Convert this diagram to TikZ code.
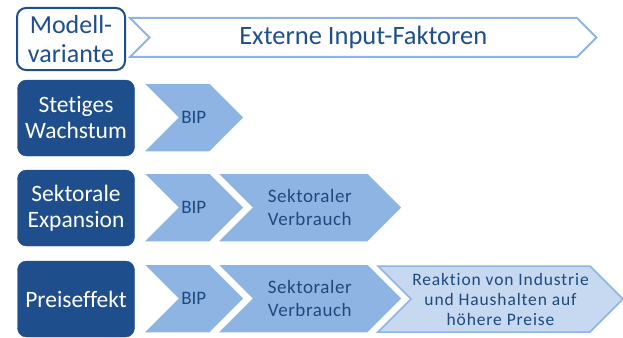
\documentclass[tikz,border=0pt]{standalone}
\usepackage{fontspec}
\setmainfont[Ligatures=NoCommon]{Carlito}
\usepackage{tikz}
\usetikzlibrary{positioning}
\definecolor{mvdark}{HTML}{1F4E8D}
\definecolor{chevfill}{HTML}{8EB4E3}
\definecolor{chevpale}{HTML}{C6D9F1}
\definecolor{chevtext}{HTML}{1F497D}

% chevron: [label opts]{name}{path style}{x left}{x body end}{y top}{y bottom}{text}
\newcommand{\chevron}[8][]{%
  \pgfmathsetmacro{\hh}{(#7-#6)/2}
  \draw[#3] (#4,#6) -- (#5,#6) -- ({#5+\hh},{#6+\hh}) -- (#5,#7)
    -- (#4,#7) -- ({#4+\hh},{#6+\hh}) -- cycle;
  \node[chevlbl, #1] (#2) at ({(#4+#5+\hh)/2},{#6+\hh}) {#8};
}

\begin{document}
\begin{tikzpicture}[
  x=1pt, y=-1pt,
  variant/.style={draw=mvdark, fill=mvdark, text=white, rounded corners=9pt,
                  minimum width=117pt, minimum height=76pt, inner sep=0pt,
                  align=center, font=\fontsize{23.5}{26}\selectfont},
  headbox/.style={variant, fill=white, text=mvdark, line width=2pt,
                  minimum width=108pt, minimum height=62pt,
                  font=\fontsize{26}{29}\selectfont},
  solidchev/.style={fill=chevfill, draw=white, line width=1.5pt},
  palechev/.style={fill=chevpale, draw=chevfill, line width=1.5pt},
  openchev/.style={fill=white, draw=chevfill, line width=2pt},
  chevlbl/.style={text=chevtext, align=center, inner sep=0pt,
                  font=\fontsize{19}{23}\selectfont},
]
  \useasboundingbox (0,0) rectangle (623,337);

  % header row
  \node[headbox] (modell) at (71,39) {Modell-\\variante};
  \chevron[text=mvdark, font=\fontsize{26.5}{29}\selectfont]{extern}{openchev}
    {130}{577}{18}{57}{Externe Input-Faktoren}

  % Stetiges Wachstum
  \node[variant] (stetig) at (76,118) {Stetiges\\Wachstum};
  \chevron{bipA}{solidchev}{143}{210}{83}{152}{BIP}

  % Sektorale Expansion
  \node[variant] (sektor) at (76,208) {Sektorale\\Expansion};
  \chevron{bipB}{solidchev}{143}{210}{173}{242}{BIP}
  \chevron[font=\addfontfeature{LetterSpace=3}\fontsize{19}{23}\selectfont]
    {verbrB}{solidchev}{217}{368}{173}{242}{Sektoraler\\Verbrauch}

  % Preiseffekt
  \node[variant] (preis) at (76,299) {Preiseffekt};
  \chevron{bipC}{solidchev}{143}{210}{264}{333}{BIP}
  \chevron[font=\addfontfeature{LetterSpace=3}\fontsize{19}{23}\selectfont]
    {verbrC}{solidchev}{217}{368}{264}{333}{Sektoraler\\Verbrauch}
  \chevron[font=\addfontfeature{LetterSpace=5}\fontsize{17.5}{20}\selectfont]
    {reakt}{palechev}{378}{590}{266}{332}
    {Reaktion von Industrie\\und Haushalten auf\\höhere Preise}

\end{tikzpicture}
\end{document}
